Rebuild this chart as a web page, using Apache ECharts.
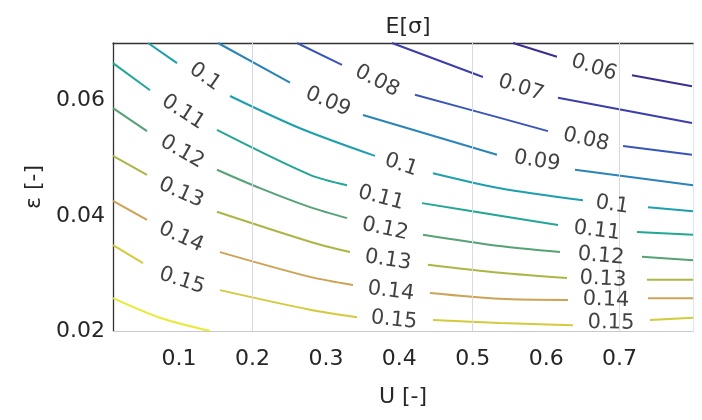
<!DOCTYPE html>
<html>
<head>
<meta charset="utf-8">
<script src="https://cdn.jsdelivr.net/npm/echarts@6/dist/echarts.min.js"></script>
<style>
  html, body { margin: 0; padding: 0; background: #fff; }
  #chart { width: 702px; height: 420px; }
</style>
</head>
<body>
<div id="chart"></div>
<script>
// contour levels of E[sigma]
var levels = [0.06, 0.07, 0.08, 0.09, 0.1, 0.11, 0.12, 0.13, 0.14, 0.15, 0.16];

// contour lines, [U, eps], null = gap for a label
var c06 = [[0.5548, 0.0700], [0.6147, 0.0676], null, [0.7169, 0.0644], [0.7986, 0.0625]];
var c07 = [[0.3900, 0.0700], [0.5139, 0.0641], null, [0.6161, 0.0605], [0.7986, 0.0561]];
var c08 = [[0.2606, 0.0700], [0.3219, 0.0662], null, [0.4213, 0.0610], [0.5371, 0.0570], [0.6025, 0.0547], null,
           [0.7047, 0.0521], [0.7986, 0.0506]];
var c09 = [[0.1530, 0.0700], [0.2511, 0.0631], null, [0.3505, 0.0575], [0.5330, 0.0506], null,
           [0.6393, 0.0480], [0.80, 0.0453]];
var c10 = [[0.0577, 0.0700], [0.0972, 0.0665], null, [0.1694, 0.0608], [0.2647, 0.0552], [0.3668, 0.0504], null,
           [0.4458, 0.0474], [0.5371, 0.0448], [0.6501, 0.0427], null, [0.7387, 0.0415], [0.80, 0.0408]];
var c11 = [[0.010, 0.0665], [0.0604, 0.0618], null, [0.1516, 0.0549], [0.2783, 0.0471], [0.3287, 0.0453], null,
           [0.4309, 0.0422], [0.5330, 0.0401], [0.6161, 0.0384], null, [0.7237, 0.0372], [0.80, 0.0367]];
var c12 = [[0.010, 0.0587], [0.0563, 0.0547], null, [0.1516, 0.0480], [0.2102, 0.0448], [0.2783, 0.0415],
           [0.3287, 0.0396], null, [0.4322, 0.0367], [0.5330, 0.0348], [0.6188, 0.0337], null,
           [0.7305, 0.0329], [0.80, 0.0323]];
var c13 = [[0.010, 0.0504], [0.0563, 0.0471], null, [0.1516, 0.0407], [0.2783, 0.0355], [0.3328, 0.0337], null,
           [0.4390, 0.0315], [0.5371, 0.0301], [0.6283, 0.0292], null, [0.7373, 0.0289], [0.80, 0.0289]];
var c14 = [[0.010, 0.0426], [0.0563, 0.0393], null, [0.1557, 0.0337], [0.2783, 0.0294], [0.3369, 0.0280], null,
           [0.4418, 0.0266], [0.5371, 0.0256], [0.6297, 0.0254], null, [0.7387, 0.0257], [0.80, 0.0257]];
var c15 = [[0.010, 0.0349], [0.0509, 0.0318], null, [0.1557, 0.0271], [0.2783, 0.0237], [0.3423, 0.0224], null,
           [0.4458, 0.0219], [0.5371, 0.0214], [0.6365, 0.0210], null, [0.7414, 0.0219], [0.80, 0.0223]];
var c16 = [[0.010, 0.0257], [0.0740, 0.0223], [0.1421, 0.0200]];
var contours = [c06, c07, c08, c09, c10, c11, c12, c13, c14, c15, c16];

// inline contour labels
var labelText = ['0.06', '0.07', '0.08', '0.08', '0.09', '0.09', '0.1', '0.1', '0.1',
                 '0.11', '0.11', '0.11', '0.12', '0.12', '0.12', '0.13', '0.13', '0.13',
                 '0.14', '0.14', '0.14', '0.15', '0.15', '0.15'];
var labelU = [0.6651, 0.5657, 0.3696, 0.6542, 0.3028, 0.5875, 0.1353, 0.4023, 0.6897,
              0.1053, 0.3750, 0.6692, 0.1040, 0.3805, 0.6747, 0.1026, 0.3846, 0.6774,
              0.1026, 0.3886, 0.6815, 0.1040, 0.3927, 0.6883];
var labelEps = [0.0657, 0.0622, 0.0634, 0.0532, 0.0598, 0.0495, 0.0641, 0.0488, 0.0419,
                0.0580, 0.0431, 0.0374, 0.0511, 0.0377, 0.0330, 0.0440, 0.0323, 0.0290,
                0.0363, 0.0269, 0.0254, 0.0287, 0.0219, 0.0214];

// axis ticks and the grid lines that show
var xTicks = [0.1, 0.2, 0.3, 0.4, 0.5, 0.6, 0.7];
var yTicks = [0.02, 0.04, 0.06];
var gridU = [0.2, 0.5, 0.7];

// styling
var levelColors = ['#3a2e92', '#3d3dab', '#3856b8', '#2a84b8', '#1ca0ae', '#22a696',
                   '#56a277', '#adb545', '#cca256', '#d4ca3c', '#e8ea34'];
var labelRotate = [-18, -18, -27, -13, -23, -9, -35, -19, -9,
                   -33, -15, -7, -30, -12, -5, -24, -9, -3,
                   -24, -7, -2, -18, -6, -1];
var FONT = 'DejaVu Sans';
var TXT = '#262626';

var chart = echarts.init(document.getElementById('chart'), null, { renderer: 'canvas' });

var series = [];
series.push({
  type: 'line', data: [], silent: true, z: 1,
  markLine: {
    silent: true, symbol: ['none', 'none'], label: { show: false },
    lineStyle: { color: '#d8dae2', type: 'solid', width: 1 },
    data: gridU.map(function (u) { return { xAxis: u }; })
  }
});
levels.forEach(function (lv, i) {
  series.push({
    name: String(lv), type: 'line', data: contours[i], symbol: 'none', smooth: 0.3,
    connectNulls: false, clip: true, z: 3,
    lineStyle: { color: levelColors[i], width: 2 }
  });
});
series.push({
  type: 'scatter', symbolSize: 0, z: 5, silent: true,
  data: labelText.map(function (t, i) {
    return { name: t, value: [labelU[i], labelEps[i]], label: { rotate: labelRotate[i] } };
  }),
  label: {
    show: true, position: 'inside', formatter: '{b}',
    color: '#111', fontFamily: FONT, fontSize: 21
  }
});

var fmt = function (v) { return String(+(+v).toFixed(2)); };

chart.setOption({
  animation: false,
  backgroundColor: '#fff',
  title: {
    text: 'E[σ]', left: 403, top: 11, textAlign: 'center',
    textStyle: { fontFamily: FONT, fontSize: 22, fontWeight: 'normal', color: TXT }
  },
  grid: { left: 113, right: 9, top: 43, bottom: 89 },
  xAxis: [{
    type: 'value', min: 0.01, max: 0.8,
    name: 'U [-]', nameLocation: 'middle', nameGap: 55,
    nameTextStyle: { fontFamily: FONT, fontSize: 22, color: TXT },
    axisLine: { show: true, lineStyle: { color: '#c6c9d4', width: 1 } },
    axisTick: { show: false }, splitLine: { show: false },
    axisLabel: { customValues: xTicks, formatter: fmt, margin: 17,
                 fontFamily: FONT, fontSize: 22, color: TXT }
  }, {
    type: 'value', position: 'top', min: 0.01, max: 0.8,
    axisLine: { show: true, lineStyle: { color: '#333', width: 1.3 } },
    axisTick: { show: false }, axisLabel: { show: false }, splitLine: { show: false }
  }],
  yAxis: [{
    type: 'value', min: 0.02, max: 0.07,
    name: 'ε [-]', nameLocation: 'middle', nameGap: 68,
    nameTextStyle: { fontFamily: FONT, fontSize: 22, color: TXT },
    axisLine: { show: true, lineStyle: { color: '#333', width: 1.3 } },
    axisTick: { show: false }, splitLine: { show: false },
    axisLabel: { customValues: yTicks, formatter: fmt, margin: 8,
                 fontFamily: FONT, fontSize: 22, color: TXT }
  }, {
    type: 'value', position: 'right', min: 0.02, max: 0.07,
    axisLine: { show: true, lineStyle: { color: '#e2e4ea', width: 1 } },
    axisTick: { show: false }, axisLabel: { show: false }, splitLine: { show: false }
  }],
  series: series
});
</script>
</body>
</html>
